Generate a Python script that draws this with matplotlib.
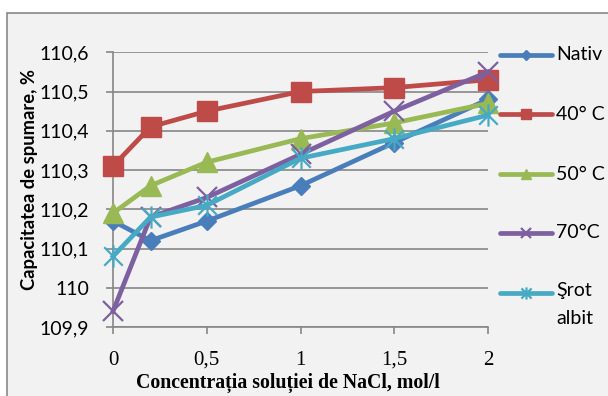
import numpy as np
import matplotlib
matplotlib.use('Agg')
import matplotlib.pyplot as plt
from matplotlib.lines import Line2D
from matplotlib.patches import Rectangle
from matplotlib.path import Path
from matplotlib.ticker import FuncFormatter, MultipleLocator

# NaCl concentration, mol/l
conc = [0, 0.2, 0.5, 1, 1.5, 2]

nativ = [110.17, 110.12, 110.17, 110.26, 110.37, 110.48]
c40 = [110.31, 110.41, 110.45, 110.50, 110.51, 110.53]
c50 = [110.19, 110.26, 110.32, 110.38, 110.42, 110.47]
c70 = [109.94, 110.18, 110.23, 110.34, 110.45, 110.55]
srot = [110.08, 110.18, 110.21, 110.33, 110.38, 110.44]

labels = ['Nativ', '40° C', '50° C', '70°C', 'Şrot\nalbit']

# asterisk marker: x plus a vertical bar
star = Path([(-0.5, -0.5), (0.5, 0.5), (-0.5, 0.5), (0.5, -0.5), (0, -0.6), (0, 0.6)],
            [Path.MOVETO, Path.LINETO, Path.MOVETO, Path.LINETO, Path.MOVETO, Path.LINETO])

styles = [
    dict(color='#4a7ebb', marker='D', ms=9.5, mew=1),
    dict(color='#be4b48', marker='s', ms=14, mew=1),
    dict(color='#98b954', marker='^', ms=14, mew=1),
    dict(color='#7d60a0', marker='x', ms=14, mew=1.6),
    dict(color='#46aac5', marker=star, ms=16, mew=1.6),
]
series = [nativ, c40, c50, c70, srot]

W, H = 608, 396
fig = plt.figure(figsize=(W / 100, H / 100), dpi=100)
fig.patch.set_facecolor('white')

# chart area frame
fig.add_artist(Rectangle((7 / W, -0.2), 2, (H - 13) / H + 0.2, transform=fig.transFigure,
                         facecolor='#f2f2f2', edgecolor='#878787', lw=1.2, zorder=0))

ax = fig.add_axes([113 / W, (H - 327) / H, (488 - 113) / W, (327 - 52.3) / H])
ax.set_facecolor('none')

for ys, st in zip(series, styles):
    ax.plot(conc, ys, color=st['color'], lw=3.4, marker=st['marker'], ms=st['ms'],
            mec=st['color'], mfc=st['color'], mew=st['mew'], clip_on=False, zorder=3)

ax.set_xlim(0, 2)
ax.set_ylim(109.9, 110.6)
ax.xaxis.set_major_locator(MultipleLocator(0.5))
ax.yaxis.set_major_locator(MultipleLocator(0.1))
ax.xaxis.set_major_formatter(FuncFormatter(lambda v, p: f'{v:g}'.replace('.', ',')))
ax.yaxis.set_major_formatter(FuncFormatter(lambda v, p: f'{round(v, 1):g}'.replace('.', ',')))

ax.grid(axis='y', color='#878787', lw=1.2)
ax.set_axisbelow(True)
for s in ['top', 'right']:
    ax.spines[s].set_visible(False)
for s in ['left', 'bottom']:
    ax.spines[s].set_color('#878787')
    ax.spines[s].set_linewidth(1.2)
ax.tick_params(axis='y', length=5, width=1.2, color='#878787', pad=12, labelsize=14)
ax.tick_params(axis='x', length=5, width=1.2, color='#878787', pad=12, labelsize=15)
for t in ax.get_yticklabels():
    t.set_fontfamily('Lato')
for t in ax.get_xticklabels():
    t.set_fontfamily('Liberation Serif')

fig.text(288 / W, 1 - 383 / H, 'Concentrația soluției de NaCl, mol/l', ha='center', va='center',
         fontsize=14.3, fontweight='bold', family='Liberation Serif')
fig.text(30 / W, 1 - 180 / H, 'Capacitatea de spumare, %', ha='center', va='center',
         rotation=90, fontsize=13.2, fontweight='bold', family='Lato')

# legend on the right
leg_y = [55, 114, 174, 233, 293]
for yy, lab, st in zip(leg_y, labels, styles):
    fy = 1 - yy / H
    fig.add_artist(Line2D([500 / W, 552 / W], [fy, fy], transform=fig.transFigure,
                          color=st['color'], lw=3.4, solid_capstyle='round'))
    fig.add_artist(Line2D([526 / W], [fy], transform=fig.transFigure, color=st['color'],
                          marker=st['marker'], ms=st['ms'] * 0.55, mfc=st['color'],
                          mec=st['color'], mew=st['mew']))
    fig.text(556 / W, fy, lab, ha='left', va='top' if '\n' in lab else 'center',
             fontsize=14, family='Lato', linespacing=1.75)
    if '\n' in lab:
        fig.texts[-1].set_y(1 - (yy - 11) / H)

fig.savefig('out.png', dpi=100)
